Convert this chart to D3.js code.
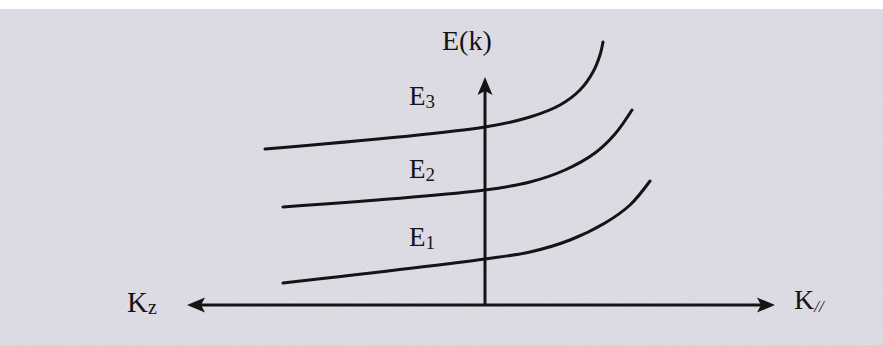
<!DOCTYPE html>
<html>
<head>
<meta charset="utf-8">
<script src="https://cdn.jsdelivr.net/npm/d3@7/dist/d3.min.js"></script>
<style>
  html, body { margin: 0; padding: 0; background: #ffffff; }
  svg { display: block; }
</style>
</head>
<body>
<svg id="chart" width="883" height="345"></svg>
<script>
// Energy bands E(k): each band is nearly flat along Kz and rises steeply along K//.
// Wavevector k (negative = Kz side, positive = K// side) and energy E in arbitrary units.
const bandNames = ["E1", "E2", "E3"];
const bandK = [
  [-2.02, 0.00, 0.45, 0.85, 1.20, 1.45, 1.65],
  [-2.02, 0.00, 0.45, 0.80, 1.10, 1.30, 1.47],
  [-2.20, 0.00, 0.45, 0.75, 0.95, 1.08, 1.15, 1.18]
];
const bandE = [
  [0.22, 0.46, 0.53, 0.65, 0.82, 1.00, 1.24],
  [0.98, 1.15, 1.23, 1.35, 1.52, 1.71, 1.95],
  [1.56, 1.78, 1.88, 2.00, 2.15, 2.33, 2.50, 2.63]
];
// Band label anchor points (k, E) and axis extents
const labelK = [-0.76, -0.76, -0.76];
const labelE = [0.59, 1.27, 2.00];
const axisK = [-2.98, 2.90];
const axisE = [0, 2.28];
const axisTitles = { energy: "E(k)", left: "K", leftSub: "z", right: "K", rightSub: "//" };

const svg = d3.select("#chart");
const W = 883, H = 345;

// paper with a faint print grain
const defs = svg.append("defs");
const grain = defs.append("filter").attr("id", "grain").attr("x", 0).attr("y", 0).attr("width", "100%").attr("height", "100%");
grain.append("feTurbulence").attr("type", "fractalNoise").attr("baseFrequency", 0.9).attr("numOctaves", 2).attr("seed", 3).attr("result", "n");
grain.append("feColorMatrix").attr("in", "n").attr("type", "matrix")
  .attr("values", "0 0 0 0 0.45  0 0 0 0 0.45  0 0 0 0 0.5  0 0 0 0.55 -0.18");

svg.append("rect").attr("x", 0).attr("y", 0).attr("width", W).attr("height", H).attr("fill", "#ffffff");
svg.append("rect").attr("x", 0).attr("y", 9).attr("width", W).attr("height", H - 9).attr("fill", "#dedde5");
svg.append("rect").attr("x", 0).attr("y", 9).attr("width", W).attr("height", H - 9).attr("filter", "url(#grain)").attr("opacity", 0.5);

const x = d3.scaleLinear().domain([-3, 3]).range([185, 785]);
const y = d3.scaleLinear().domain([0, 2.6]).range([305, 45]);

const ink = "#141414";
const serif = "'Liberation Serif', 'DejaVu Serif', serif";

// axes
const g = svg.append("g");
g.append("line")
  .attr("x1", x(axisK[0]) + 14).attr("x2", x(axisK[1]) - 14)
  .attr("y1", y(0)).attr("y2", y(0))
  .attr("stroke", ink).attr("stroke-width", 3);
g.append("line")
  .attr("x1", x(0)).attr("x2", x(0))
  .attr("y1", y(axisE[0])).attr("y2", y(axisE[1]) + 14)
  .attr("stroke", ink).attr("stroke-width", 3);

// arrowheads
function arrow(tipX, tipY, dx, dy) {
  const len = 18, half = 7.5;
  const bx = tipX - dx * len, by = tipY - dy * len;
  const px = -dy * half, py = dx * half;
  g.append("path")
    .attr("d", `M${tipX},${tipY} L${bx + px},${by + py} L${bx + dx * 4},${by + dy * 4} L${bx - px},${by - py} Z`)
    .attr("fill", ink);
}
arrow(x(axisK[0]), y(0), -1, 0);
arrow(x(axisK[1]), y(0), 1, 0);
arrow(x(0), y(axisE[1]), 0, -1);

// bands
const line = d3.line().x(d => x(d[0])).y(d => y(d[1])).curve(d3.curveCatmullRom.alpha(0.5));
bandK.forEach((ks, i) => {
  const pts = ks.map((k, j) => [k, bandE[i][j]]);
  g.append("path")
    .attr("d", line(pts))
    .attr("fill", "none")
    .attr("stroke", ink)
    .attr("stroke-width", 3)
    .attr("stroke-linecap", "round");
});

// band labels
bandNames.forEach((name, i) => {
  const t = g.append("text")
    .attr("x", x(labelK[i])).attr("y", y(labelE[i]))
    .attr("font-family", serif).attr("font-size", 27).attr("fill", ink);
  t.append("tspan").text(name[0]);
  t.append("tspan").attr("font-size", 19).attr("dy", 3).text(name.slice(1));
});

// axis titles
g.append("text")
  .attr("x", x(0) - 43).attr("y", 50)
  .attr("font-family", serif).attr("font-size", 28).attr("fill", ink)
  .text(axisTitles.energy);

const lt = g.append("text")
  .attr("x", 127).attr("y", y(0) + 7)
  .attr("font-family", serif).attr("font-size", 29).attr("fill", ink);
lt.append("tspan").text(axisTitles.left);
lt.append("tspan").attr("font-size", 20).attr("dy", 2).text(axisTitles.leftSub);

const rt = g.append("text")
  .attr("x", 794).attr("y", y(0) + 4)
  .attr("font-family", serif).attr("font-size", 28).attr("fill", ink);
rt.append("tspan").text(axisTitles.right);
rt.append("tspan").attr("font-size", 17).attr("dy", 3).attr("font-style", "italic").text(axisTitles.rightSub);
</script>
</body>
</html>
